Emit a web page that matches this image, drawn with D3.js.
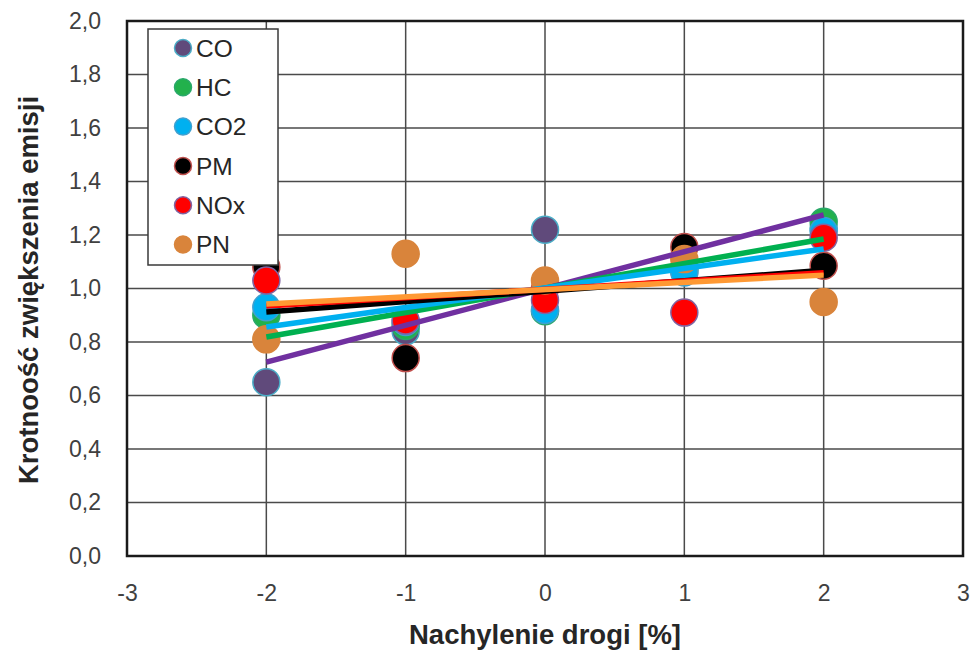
<!DOCTYPE html>
<html>
<head>
<meta charset="utf-8">
<script src="https://cdn.jsdelivr.net/npm/d3@7"></script>
<style>
  body { margin: 0; background: #fff; }
  text { font-family: "Liberation Sans", Arial, sans-serif; fill: #262626; }
</style>
</head>
<body>
<script>
// nachylenie drogi [%]
var slopes = [-2, -1, 0, 1, 2]
var seriesNames = ['CO', 'HC', 'CO2', 'PM', 'NOx', 'PN']

var coValues = [0.65, 0.84, 1.22, 1.065, 1.225]
var hcValues = [0.90, 0.86, 0.915, 1.075, 1.25]
var co2Values = [0.93, 0.875, 0.92, 1.06, 1.215]
var pmValues = [1.08, 0.74, 1.0, 1.155, 1.085]
var noxValues = [1.03, 0.88, 0.957, 0.91, 1.19]
var pnValues = [0.81, 1.13, 1.03, 1.11, 0.95]

// linie trendu (liniowe)
var trendSlope = [0.1375, 0.0915, 0.073, 0.039, 0.031, 0.027]
var trendIntercept = [1.0, 1.002, 1.002, 0.99, 0.997, 0.996]

var xTicks = [-3, -2, -1, 0, 1, 2, 3]
var yTicks = [0, 0.2, 0.4, 0.6, 0.8, 1.0, 1.2, 1.4, 1.6, 1.8, 2.0]

var allValues = [coValues, hcValues, co2Values, pmValues, noxValues, pnValues]
var fills = ['#604a7b', '#22b14c', '#00b0f0', '#000000', '#ff0000', '#d9843b']
var strokes = ['#4bacc6', '#2aa86a', '#3fa0d0', '#c0504d', '#8064a2', '#d9843b']
var trendColors = ['#7030a0', '#00b050', '#00b0f0', '#000000', '#ff0000', '#ff9933']

var width = 975, height = 655
var margin = { top: 21, right: 12, bottom: 99, left: 127 }

var svg = d3.select('body').append('svg')
    .attr('width', width)
    .attr('height', height)

var x = d3.scaleLinear()
    .domain([-3, 3])
    .range([margin.left, width - margin.right])

var y = d3.scaleLinear()
    .domain([0, 2])
    .range([height - margin.bottom, margin.top])

var fmt = function (d) { return d3.format('.1f')(d).replace('.', ',') }

// siatka
svg.append('g')
    .selectAll('line')
    .data(yTicks)
    .enter().append('line')
    .attr('x1', x(-3)).attr('x2', x(3))
    .attr('y1', function (d) { return y(d) })
    .attr('y2', function (d) { return y(d) })
    .attr('stroke', '#4a4a4a')
    .attr('stroke-width', 1.5)

svg.append('g')
    .selectAll('line')
    .data(xTicks)
    .enter().append('line')
    .attr('y1', y(0)).attr('y2', y(2))
    .attr('x1', function (d) { return x(d) })
    .attr('x2', function (d) { return x(d) })
    .attr('stroke', '#4a4a4a')
    .attr('stroke-width', 1.5)

svg.append('rect')
    .attr('x', x(-3)).attr('y', y(2))
    .attr('width', x(3) - x(-3))
    .attr('height', y(0) - y(2))
    .attr('fill', 'none')
    .attr('stroke', '#1a1a1a')
    .attr('stroke-width', 2.5)

// osie
var xAxis = svg.append('g')
    .attr('transform', 'translate(0,' + y(0) + ')')
    .call(d3.axisBottom(x).tickValues(xTicks).tickSize(0).tickPadding(29).tickFormat(d3.format('d')))
xAxis.select('.domain').remove()
xAxis.selectAll('text')
    .style('font-size', '23px')
    .style('fill', '#404040')
    .text(function (d) { return d < 0 ? '-' + Math.abs(d) : d })

var yAxis = svg.append('g')
    .attr('transform', 'translate(' + x(-3) + ',0)')
    .call(d3.axisLeft(y).tickValues(yTicks).tickSize(0).tickPadding(26).tickFormat(fmt))
yAxis.select('.domain').remove()
yAxis.selectAll('text')
    .style('font-size', '23px')
    .style('fill', '#404040')

// punkty
seriesNames.forEach(function (name, i) {
    svg.append('g')
        .attr('class', 'points ' + name)
        .selectAll('circle')
        .data(allValues[i])
        .enter().append('circle')
        .attr('cx', function (d, j) { return x(slopes[j]) })
        .attr('cy', function (d) { return y(d) })
        .attr('r', 13.5)
        .attr('fill', fills[i])
        .attr('stroke', strokes[i])
        .attr('stroke-width', 1.5)
})

// linie trendu
var line = d3.line()
    .x(function (d) { return x(d[0]) })
    .y(function (d) { return y(d[1]) })

seriesNames.forEach(function (name, i) {
    var ends = d3.extent(slopes).map(function (s) { return [s, trendIntercept[i] + trendSlope[i] * s] })
    svg.append('path')
        .datum(ends)
        .attr('d', line)
        .attr('fill', 'none')
        .attr('stroke', trendColors[i])
        .attr('stroke-width', 5.5)
})

// legenda
var legend = svg.append('g').attr('transform', 'translate(148,29)')
legend.append('rect')
    .attr('width', 130).attr('height', 236)
    .attr('fill', '#fff')
    .attr('stroke', '#3a3a3a')
    .attr('stroke-width', 1.5)

var item = legend.selectAll('g.item')
    .data(seriesNames)
    .enter().append('g')
    .attr('class', 'item')
    .attr('transform', function (d, i) { return 'translate(0,' + (19 + i * 39.3) + ')' })

item.append('circle')
    .attr('cx', 35).attr('r', 8.5)
    .attr('fill', function (d, i) { return fills[i] })
    .attr('stroke', function (d, i) { return strokes[i] })
    .attr('stroke-width', 1.5)

item.append('text')
    .attr('x', 48).attr('dy', '0.36em')
    .style('font-size', '24.5px')
    .text(function (d) { return d })

// tytuły osi
svg.append('text')
    .attr('x', x(0)).attr('y', 644)
    .attr('text-anchor', 'middle')
    .style('font-size', '27.5px')
    .style('font-weight', 'bold')
    .text('Nachylenie drogi [%]')

svg.append('text')
    .attr('transform', 'translate(38,' + 290 + ') rotate(-90)')
    .attr('text-anchor', 'middle')
    .style('font-size', '27.5px')
    .style('font-weight', 'bold')
    .text('Krotnoość zwiększenia emisji')
</script>
</body>
</html>
